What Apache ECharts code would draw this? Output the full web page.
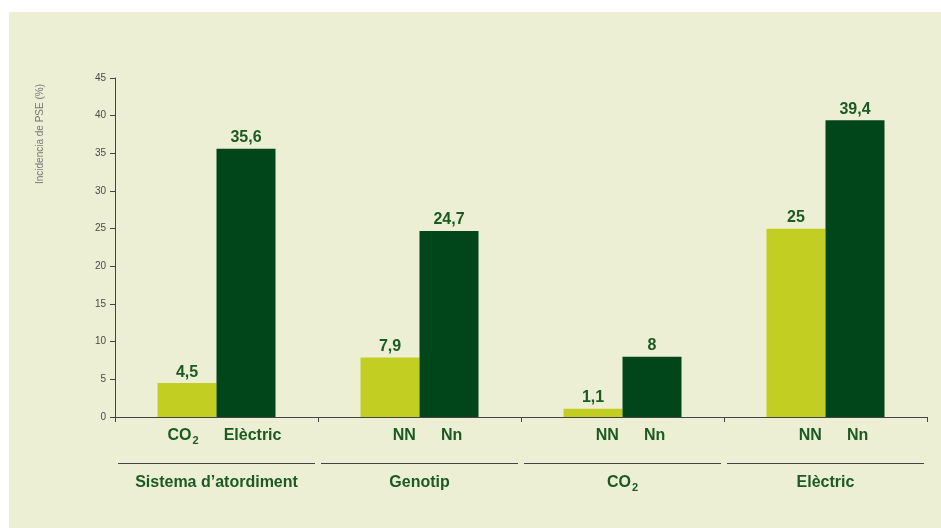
<!DOCTYPE html>
<html>
<head>
<meta charset="utf-8">
<script src="https://cdn.jsdelivr.net/npm/echarts@6/dist/echarts.min.js"></script>
<style>
html,body{margin:0;padding:0;background:#ffffff;width:941px;height:528px;overflow:hidden;}
#panel{position:absolute;left:9px;top:12px;width:932px;height:516px;background:#ECEFD3;}
#chart{position:absolute;left:0;top:0;width:941px;height:528px;}
</style>
</head>
<body>
<div id="panel"></div>
<div id="chart"></div>
<script>
const groups = ['Sistema d\u2019atordiment', 'Genotip', 'CO\u2082', 'El\u00e8ctric'];
const subFirst = ['CO\u2082', 'NN', 'NN', 'NN'];
const subSecond = ['El\u00e8ctric', 'Nn', 'Nn', 'Nn'];
const valuesFirst = [4.5, 7.9, 1.1, 25];
const valuesSecond = [35.6, 24.7, 8, 39.4];
const yTicks = [0, 5, 10, 15, 20, 25, 30, 35, 40, 45];
const yTitle = 'Incidencia de PSE (%)';

const textGreen = '#1B5A22';
const lightBar = '#C2CF22';
const darkBar = '#00461A';
const axisCol = '#444444';
const font = '"Liberation Sans", Arial, sans-serif';

// turn the subscript "₂" into a separate rich-text token
function sub(text, main, small) {
  const parts = text.split('\u2082');
  let out = '';
  parts.forEach((p, i) => {
    if (p) out += '{' + main + '|' + p + '}';
    if (i < parts.length - 1) out += '{' + small + '|2}';
  });
  return out;
}

const chart = echarts.init(document.getElementById('chart'), null, {renderer: 'canvas'});

const valueLabel = {
  show: true,
  position: 'top',
  distance: 3,
  color: textGreen,
  fontWeight: 'bold',
  fontSize: 16,
  fontFamily: font,
  formatter: p => String(p.value).replace('.', ',')
};

const mainText = {fontSize: 16, fontWeight: 'bold', color: textGreen, fontFamily: font};

chart.setOption({
  backgroundColor: 'transparent',
  animation: false,
  grid: {left: 115, right: 14, top: 78, bottom: 111, containLabel: false},
  xAxis: {
    type: 'category',
    data: groups,
    boundaryGap: true,
    axisLine: {show: true, lineStyle: {color: axisCol, width: 1}},
    axisTick: {show: true, length: 5, lineStyle: {color: axisCol}},
    axisLabel: {
      margin: 4,
      interval: 0,
      formatter: (v, i) =>
        '{pre|}' + sub(subFirst[i], 'a', 'as') + '{sp|}' + sub(subSecond[i], 'a', 'as') +
        '\n{line|}\n' + sub(v, 'g', 'gs'),
      rich: {
        pre: {width: 16, height: 1, lineHeight: 30},
        a: Object.assign({lineHeight: 30}, mainText),
        as: Object.assign({lineHeight: 30, padding: [9, 0, 0, 1]}, mainText, {fontSize: 11}),
        sp: {width: 25, height: 1, lineHeight: 30},
        line: {width: 197, height: 1, lineHeight: 25, backgroundColor: '#444'},
        g: Object.assign({lineHeight: 14}, mainText),
        gs: Object.assign({lineHeight: 14, padding: [9, 0, 0, 1]}, mainText, {fontSize: 11})
      }
    }
  },
  yAxis: {
    type: 'value',
    min: yTicks[0],
    max: yTicks[yTicks.length - 1],
    interval: yTicks[1] - yTicks[0],
    axisLine: {show: true, lineStyle: {color: axisCol, width: 1}},
    axisTick: {show: true, length: 5, lineStyle: {color: axisCol}},
    splitLine: {show: false},
    axisLabel: {margin: 9, color: '#4a4a4a', fontSize: 10, fontFamily: font}
  },
  series: [
    {
      type: 'bar',
      data: valuesFirst,
      barWidth: 59,
      barGap: '0%',
      itemStyle: {color: lightBar},
      label: valueLabel
    },
    {
      type: 'bar',
      data: valuesSecond,
      barWidth: 59,
      barGap: '0%',
      itemStyle: {color: darkBar},
      label: valueLabel
    }
  ],
  graphic: [{
    type: 'text',
    x: 40,
    y: 134,
    rotation: Math.PI / 2,
    style: {
      text: yTitle,
      fill: '#777',
      fontSize: 10,
      fontFamily: font,
      align: 'center',
      verticalAlign: 'middle'
    }
  }]
});
</script>
</body>
</html>
